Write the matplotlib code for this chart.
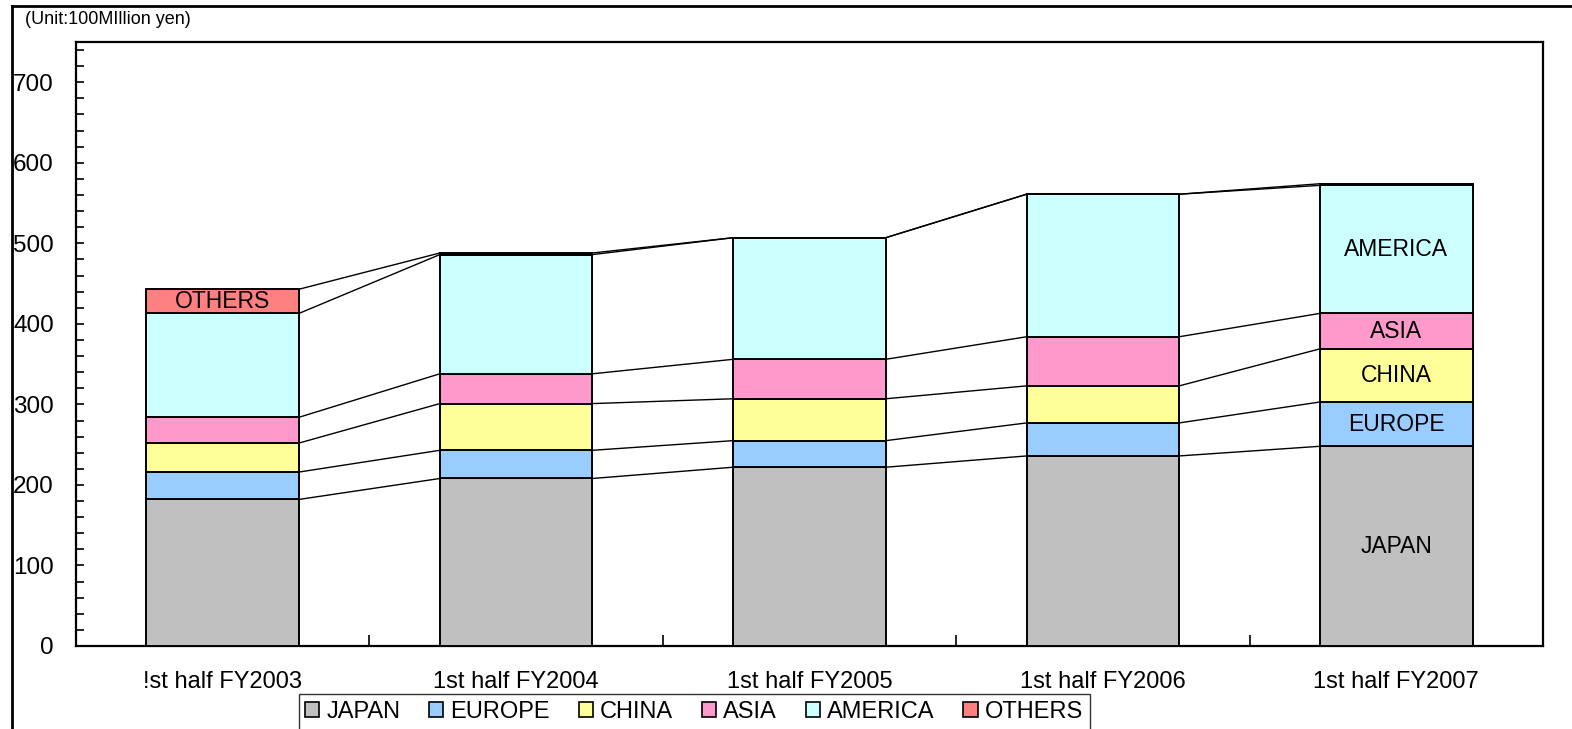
import matplotlib
matplotlib.use("Agg")
import matplotlib.pyplot as plt
from matplotlib.lines import Line2D
from matplotlib.patches import Patch
from matplotlib.ticker import MultipleLocator, FixedLocator
import numpy as np

plt.rcParams['font.family'] = ['Liberation Sans', 'DejaVu Sans']

# data (100 million yen)
periods = ['!st half FY2003', '1st half FY2004', '1st half FY2005',
           '1st half FY2006', '1st half FY2007']
regions = ['JAPAN', 'EUROPE', 'CHINA', 'ASIA', 'AMERICA', 'OTHERS']
japan = [182, 208, 222, 236, 248]
europe = [34, 35, 33, 41, 55]
china = [36, 58, 52, 46, 66]
asia = [32, 37, 49, 61, 44]
america = [129, 148, 151, 177, 159]
others = [30, 2, 0, 0, 2]
colors = ['#C0C0C0', '#99CCFF', '#FFFF99', '#FF99CC', '#CCFFFF', '#FF8080']

series = [japan, europe, china, asia, america, others]

W, H = 1572, 729
fig = plt.figure(figsize=(W / 100, H / 100), dpi=100)
ax = fig.add_axes([76 / W, 1 - 646 / H, (1543 - 76) / W, (646 - 42) / H])

x = np.arange(len(periods))
width = 0.52
bottom = np.zeros(len(periods))
tops = []
for vals, col in zip(series, colors):
    vals = np.array(vals, dtype=float)
    ax.bar(x, vals, width=width, bottom=bottom, color=col,
           edgecolor='black', linewidth=1.4, zorder=3)
    bottom = bottom + vals
    tops.append(bottom.copy())

# series lines between neighbouring bars
for cum in tops:
    for i in range(len(periods) - 1):
        ax.plot([x[i] + width / 2, x[i + 1] - width / 2], [cum[i], cum[i + 1]],
                color='black', linewidth=1.0, zorder=2)

# labels inside the last bar, and OTHERS in the first
last = len(periods) - 1
prev = 0
for name, cum in zip(regions[:5], tops[:5]):
    ax.text(x[last], (prev + cum[last]) / 2, name, ha='center', va='center',
            fontsize=16.5, zorder=4)
    prev = cum[last]
ax.text(x[0], (tops[4][0] + tops[5][0]) / 2, 'OTHERS', ha='center',
        va='center', fontsize=16.5, zorder=4)

ax.set_xlim(-0.5, len(periods) - 0.5)
ax.set_ylim(0, 750)
ax.yaxis.set_major_locator(MultipleLocator(100))
ax.yaxis.set_minor_locator(MultipleLocator(20))
ax.set_yticks(range(0, 701, 100))
ax.tick_params(axis='y', which='both', direction='in', length=6, width=1.2)
ax.tick_params(axis='y', which='major', labelsize=17.5, pad=16)
ax.set_xticks(x)
ax.set_xticklabels(periods)
ax.xaxis.set_minor_locator(FixedLocator(x[:-1] + 0.5))
ax.tick_params(axis='x', which='major', length=0, labelsize=17, pad=18)
ax.tick_params(axis='x', which='minor', direction='in', length=8, width=1.2)
for sp in ax.spines.values():
    sp.set_linewidth(1.6)
    sp.set_color('black')

fig.text(25 / W, 1 - 20 / H, '(Unit:100MIllion yen)', fontsize=13,
         ha='left', va='center')

# outer chart frame
fig.add_artist(Line2D([12 / W, 1], [1 - 6 / H, 1 - 6 / H], color='black',
                      linewidth=2, transform=fig.transFigure))
fig.add_artist(Line2D([12 / W, 12 / W], [0, 1 - 6 / H], color='black',
                      linewidth=2, transform=fig.transFigure))

handles = [Patch(facecolor=c, edgecolor='black', linewidth=1.2) for c in colors]
leg = fig.legend(handles, regions, ncol=6, loc='center',
                 bbox_to_anchor=(694 / W, 1 - 712 / H), fontsize=17,
                 frameon=True, fancybox=False, handlelength=0.6,
                 handleheight=0.6, handletextpad=0.3, columnspacing=1.22,
                 borderpad=0.28, borderaxespad=0)
leg.get_frame().set_edgecolor('black')
leg.get_frame().set_linewidth(1.0)

fig.savefig('out.png', dpi=100)
print("done")
